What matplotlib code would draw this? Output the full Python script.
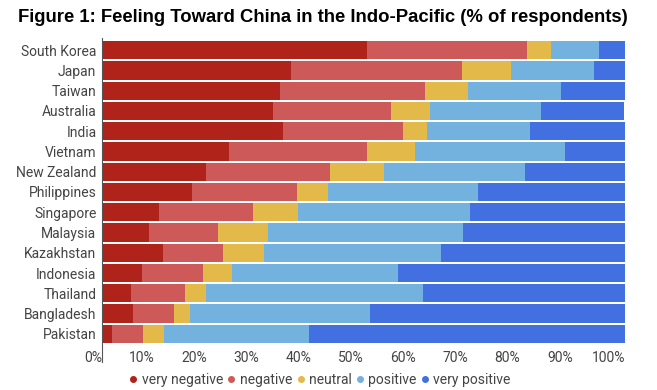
import numpy as np
import matplotlib
matplotlib.use('Agg')
import matplotlib.pyplot as plt
from matplotlib.lines import Line2D

# dados (% de respondentes)
countries = ['South Korea', 'Japan', 'Taiwan', 'Australia', 'India', 'Vietnam',
             'New Zealand', 'Philippines', 'Singapore', 'Malaysia', 'Kazakhstan',
             'Indonesia', 'Thailand', 'Bangladesh', 'Pakistan']
very_negative = [50.7, 36.1, 34.0, 32.6, 34.6, 24.3, 19.8, 17.2, 10.8, 8.9, 11.6, 7.6, 5.5, 6.0, 2.0]
negative = [30.6, 32.7, 27.7, 22.6, 22.9, 26.3, 23.8, 20.0, 18.0, 13.3, 11.5, 11.8, 10.4, 7.8, 5.8]
neutral = [4.6, 9.4, 8.3, 7.6, 4.6, 9.2, 10.3, 6.1, 8.6, 9.5, 7.8, 5.4, 4.0, 3.0, 4.0]
positive = [9.2, 15.9, 17.8, 21.2, 19.7, 28.8, 27.0, 28.5, 33.0, 37.3, 33.9, 31.7, 41.5, 34.5, 27.8]
very_positive = [5.0, 5.9, 12.2, 15.9, 18.3, 11.4, 19.1, 28.2, 29.6, 31.0, 35.2, 43.5, 38.6, 48.7, 60.4]

series = [very_negative, negative, neutral, positive, very_positive]
labels = ['very negative', 'negative', 'neutral', 'positive', 'very positive']
colors = ['#B0231B', '#CD5A58', '#E3BA4A', '#73B1DE', '#4270E0']

plt.rcParams['font.family'] = ['Roboto', 'DejaVu Sans']

fig = plt.figure(figsize=(6.57, 3.9), dpi=100)
ax = fig.add_axes([0.1553, 0.1154, 0.796, 0.7872])

y = np.arange(len(countries))
left = np.zeros(len(countries))
for vals, lab, col in zip(series, labels, colors):
    vals = np.array(vals)
    ax.barh(y, vals, left=left, height=0.9, color=col, label=lab)
    left += vals

ax.set_xlim(0, 100)
ax.set_ylim(len(countries) - 0.45, -0.6)
ax.set_yticks(y)
ax.set_yticklabels(countries, fontsize=10, color='#444444')
ax.set_xticks(np.arange(0, 101, 10))
ax.set_xticklabels([f'{v}%' for v in range(0, 101, 10)], fontsize=10,
                   color='#444444', ha='right')
ax.tick_params(axis='y', length=0, pad=4)
ax.tick_params(axis='x', length=0, pad=4)
for s in ['top', 'right', 'bottom', 'left']:
    ax.spines[s].set_visible(False)
ax.axvline(0, ymin=-0.055, ymax=1.0, color='#555555', lw=0.8, clip_on=False)

fig.text(0.027, 0.955, 'Figure 1: Feeling Toward China in the Indo-Pacific (% of respondents)',
         fontsize=13.35, fontweight='bold', family='Liberation Sans', va='center')

handles = [Line2D([], [], marker='o', ls='', color=c, markersize=4) for c in colors]
fig.legend(handles, labels, loc='center', bbox_to_anchor=(0.487, 0.026), ncol=5,
           frameon=False, handletextpad=0.3, columnspacing=0.3, handlelength=0.6,
           fontsize=10, labelcolor='#444444')

plt.savefig('out.png', dpi=100)
